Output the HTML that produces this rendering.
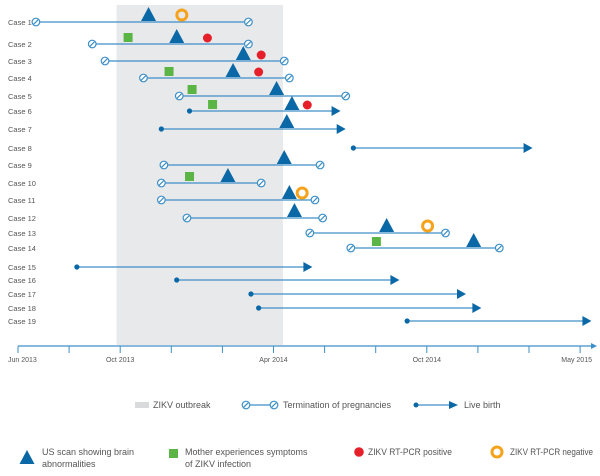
<!DOCTYPE html>
<html><head><meta charset="utf-8"><style>
html,body{margin:0;padding:0;background:#fff;}
svg{display:block;font-family:"Liberation Sans",sans-serif;}
</style></head><body>
<svg id="c" width="600" height="476" viewBox="0 0 600 476"></svg>
<script>
const caseLabels=["Case 1","Case 2","Case 3","Case 4","Case 5","Case 6","Case 7","Case 8","Case 9","Case 10","Case 11","Case 12","Case 13","Case 14","Case 15","Case 16","Case 17","Case 18","Case 19"];
const rowY=[22,44,61,78,96,111,129,148,165,183,200,218,233,248,267,280,294,308,321];
// months since 1 Jun 2013
const startM=[0.7,2.9,3.4,4.9,6.3,6.7,5.6,13.1,5.7,5.6,5.6,6.6,11.4,13.0,2.3,6.2,9.1,9.4,15.2];
const endM=[9.0,9.0,10.4,10.6,12.8,12.6,12.8,20.1,11.8,9.5,11.6,11.9,16.7,18.8,11.5,14.9,17.5,18.1,22.4];
const outcome=["T","T","T","T","T","L","L","L","T","T","T","T","T","T","L","L","L","L","L"];
const usScan=[5.1,6.2,8.8,8.4,10.1,10.7,10.5,null,10.4,8.2,10.6,10.8,14.4,17.8,null,null,null,null,null];
const symptoms=[null,4.3,null,5.9,6.8,7.6,null,null,null,6.7,null,null,null,14.0,null,null,null,null,null];
const pcrPos=[null,7.4,9.5,9.4,null,11.3,null,null,null,null,null,null,null,null,null,null,null,null,null];
const pcrNeg=[6.4,null,null,null,null,null,null,null,null,null,11.1,null,16.0,null,null,null,null,null,null];
const outbreak=[3.85,10.35];
const tickM=[0,2,4,6,8,10,12,14,16,18,20,22];
const tickLabels=["Jun 2013","","Oct 2013","","","Apr 2014","","","Oct 2014","","","May 2015"];

const X=m=>18+m*25.6;
const svg=document.getElementById('c');
const NS='http://www.w3.org/2000/svg';
function mk(tag,attrs,parent){const e=document.createElementNS(NS,tag);for(const k in attrs)e.setAttribute(k,attrs[k]);(parent||svg).appendChild(e);return e;}
const BLUE='#0b68a6',LINE='#3d8fc6',GRAY='#555';

let r=mk('rect',{x:X(outbreak[0]),y:5,width:X(outbreak[1])-X(outbreak[0]),height:340,fill:'#e8e9eb'});



function term(x,y,p){const g=mk('g',{},p);mk('circle',{cx:x,cy:y,r:3.8,fill:'#fff',stroke:LINE,'stroke-width':1.2},g);mk('line',{x1:x-2.2,y1:y+2.2,x2:x+2.2,y2:y-2.2,stroke:LINE,'stroke-width':1.2},g);return g;}
function tri(x,y,p){return mk('polygon',{points:`${x-7.5},${y} ${x+7.5},${y} ${x},${y-14}`,fill:BLUE},p);}

caseLabels.forEach((lab,i)=>{
  const y=rowY[i];
  const g=mk('g',{});
  
  
  const t=mk('text',{x:8,y:y+3,'font-size':7.5,fill:GRAY},g);t.textContent=lab;
  const x1=X(startM[i]),x2=X(endM[i]);
  if(outcome[i]==='T'){
    mk('line',{x1:x1,y1:y,x2:x2,y2:y,stroke:LINE,'stroke-width':1.2},g);
    term(x1,y,g);term(x2,y,g);
  }else{
    mk('line',{x1:x1,y1:y,x2:x2-6,y2:y,stroke:LINE,'stroke-width':1.2},g);
    mk('circle',{cx:x1,cy:y,r:2.6,fill:BLUE},g);
    mk('polygon',{points:`${x2-9},${y-5} ${x2},${y} ${x2-9},${y+5}`,fill:BLUE},g);
  }
  if(symptoms[i]!=null){const s=mk('rect',{x:X(symptoms[i])-4.5,y:y-11,width:9,height:9,fill:'#5bb544'},g);}
  if(pcrPos[i]!=null){const c=mk('circle',{cx:X(pcrPos[i]),cy:y-6,r:4.5,fill:'#e5202a'},g);}
  if(pcrNeg[i]!=null){const c=mk('circle',{cx:X(pcrNeg[i]),cy:y-7,r:5,fill:'none',stroke:'#f5a31d','stroke-width':3},g);}
  if(usScan[i]!=null){const p=tri(X(usScan[i]),y-1,g);}
});

// axis
const ax=mk('g',{});


mk('line',{x1:18,y1:346,x2:593,y2:346,stroke:LINE,'stroke-width':1.2},ax);
mk('polygon',{points:'591,343 597,346 591,349',fill:LINE},ax);
tickM.forEach((m,i)=>{
  const tx=18+m*25.55;
  mk('line',{x1:tx,y1:346,x2:tx,y2:353,stroke:LINE,'stroke-width':1},ax);
  if(tickLabels[i]){const t=mk('text',{x:tx,y:362,'font-size':7,fill:GRAY,'text-anchor':i===0?'start':(i===tickM.length-1?'end':'middle')},ax);
    if(i===0)t.setAttribute('x',8);
    if(i===tickM.length-1)t.setAttribute('x',592);
    t.textContent=tickLabels[i];}
});

// legend row 1
const lg=mk('g',{});


mk('rect',{x:135,y:402,width:14,height:6,fill:'#d9dadc'},lg);
let t=mk('text',{x:153,y:408,'font-size':9,fill:GRAY},lg);t.textContent='ZIKV outbreak';
mk('line',{x1:246,y1:405,x2:274,y2:405,stroke:LINE,'stroke-width':1.2},lg);
term(246,405,lg);term(274,405,lg);
t=mk('text',{x:283,y:408,'font-size':9,fill:GRAY},lg);t.textContent='Termination of pregnancies';
mk('line',{x1:416,y1:405,x2:452,y2:405,stroke:LINE,'stroke-width':1.2},lg);
mk('circle',{cx:416,cy:405,r:2.5,fill:BLUE},lg);
mk('polygon',{points:'449,401 458,405 449,409',fill:BLUE},lg);
t=mk('text',{x:464,y:408,'font-size':9,fill:GRAY},lg);t.textContent='Live birth';
// legend row 2
mk('polygon',{points:'19.5,464 34.5,464 27,450',fill:BLUE},lg);
t=mk('text',{x:42,y:455,'font-size':9,fill:GRAY},lg);t.textContent='US scan showing brain';
t=mk('text',{x:42,y:467,'font-size':9,fill:GRAY},lg);t.textContent='abnormalities';
mk('rect',{x:169,y:449,width:9,height:9,fill:'#5bb544'},lg);
t=mk('text',{x:185,y:455,'font-size':9,fill:GRAY},lg);t.textContent='Mother experiences symptoms';
t=mk('text',{x:185,y:467,'font-size':9,fill:GRAY},lg);t.textContent='of ZIKV infection';
mk('circle',{cx:359,cy:452,r:4.8,fill:'#e5202a'},lg);
t=mk('text',{x:368,y:455,'font-size':9,fill:GRAY,textLength:84,lengthAdjust:'spacingAndGlyphs'},lg);t.textContent='ZIKV RT-PCR positive';
mk('circle',{cx:497,cy:452,r:5,fill:'none',stroke:'#f5a31d','stroke-width':3},lg);
t=mk('text',{x:510,y:455,'font-size':9,fill:GRAY,textLength:83,lengthAdjust:'spacingAndGlyphs'},lg);t.textContent='ZIKV RT-PCR negative';
</script>
</body></html>
